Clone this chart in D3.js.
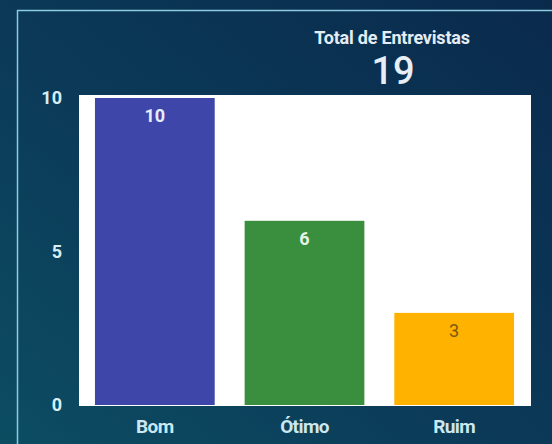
<!DOCTYPE html>
<html>
<head>
<meta charset="utf-8">
<script src="https://cdn.jsdelivr.net/npm/d3@7"></script>
<style>
  html, body { margin: 0; padding: 0; background: #0b2f4f; }
  svg { display: block; }
</style>
</head>
<body>
<svg id="chart" width="552" height="444"></svg>
<script>
const categories = ["Bom", "Ótimo", "Ruim"];
const values = [10, 6, 3];
const barColors = ["#3e47a9", "#3a8f3f", "#ffb200"];
const labelColors = ["#e8ecf8", "#e6f2e6", "#7a5a10"];
const labelWeights = ["bold", "bold", "normal"];
const yTicks = [0, 5, 10];
const totalTitle = "Total de Entrevistas";
const totalValue = 19;

const svg = d3.select("#chart");
const defs = svg.append("defs");
const grad = defs.append("linearGradient").attr("id", "bg")
  .attr("x1", "0%").attr("y1", "100%").attr("x2", "100%").attr("y2", "0%");
grad.append("stop").attr("offset", "0%").attr("stop-color", "#0c4d62");
grad.append("stop").attr("offset", "45%").attr("stop-color", "#0b3a58");
grad.append("stop").attr("offset", "100%").attr("stop-color", "#0a2a4c");

svg.append("rect").attr("width", 552).attr("height", 444).attr("fill", "url(#bg)");

// frame lines
svg.append("line").attr("x1", 17).attr("x2", 552).attr("y1", 10.5).attr("y2", 10.5)
  .attr("stroke", "#8ccbe0").attr("stroke-width", 1.5);
svg.append("line").attr("x1", 17.5).attr("x2", 17.5).attr("y1", 10).attr("y2", 444)
  .attr("stroke", "#8ccbe0").attr("stroke-width", 1.5);

// plot area
const plot = { left: 79, right: 531, top: 95, bottom: 406 };
svg.append("rect").attr("x", plot.left).attr("y", plot.top)
  .attr("width", plot.right - plot.left).attr("height", plot.bottom - plot.top)
  .attr("fill", "#ffffff");

const x = d3.scaleBand().domain(categories).range([80, 529]).paddingInner(0.2).paddingOuter(0.1);
const y = d3.scaleLinear().domain([0, 10]).range([405, 98]);

svg.selectAll("rect.bar").data(values).enter().append("rect")
  .attr("class", "bar")
  .attr("x", (d, i) => x(categories[i]))
  .attr("y", d => y(d))
  .attr("width", x.bandwidth())
  .attr("height", d => y(0) - y(d))
  .attr("fill", (d, i) => barColors[i]);

svg.selectAll("text.val").data(values).enter().append("text")
  .attr("class", "val")
  .attr("x", (d, i) => x(categories[i]) + x.bandwidth() / 2)
  .attr("y", d => y(d) + 24)
  .attr("text-anchor", "middle")
  .attr("font-family", "Roboto, sans-serif")
  .attr("font-size", 18)
  .attr("font-weight", (d, i) => labelWeights[i])
  .attr("fill", (d, i) => labelColors[i])
  .text(d => d);

// y axis
const yAxis = d3.axisLeft(y).tickValues(yTicks).tickSize(0).tickPadding(0);
const gy = svg.append("g").attr("transform", "translate(62,0)").call(yAxis);
gy.select(".domain").remove();
gy.selectAll("text")
  .attr("font-family", "Roboto, sans-serif")
  .attr("font-size", 18)
  .attr("font-weight", "bold")
  .attr("fill", "#d6eef5");

// x axis
const xAxis = d3.axisBottom(x).tickSize(0).tickPadding(0);
const gx = svg.append("g").attr("transform", "translate(0,0)").call(xAxis);
gx.select(".domain").remove();
gx.selectAll("text")
  .attr("y", 433).attr("dy", null)
  .attr("font-family", "Roboto, sans-serif")
  .attr("font-size", 19)
  .attr("font-weight", "bold")
  .attr("letter-spacing", "-0.6px")
  .attr("fill", "#cbe7f0");

// total header
svg.append("text").attr("x", 392).attr("y", 44).attr("text-anchor", "middle")
  .attr("font-family", "Roboto, sans-serif").attr("font-size", 18).attr("font-weight", "bold")
  .attr("letter-spacing", "-0.2px")
  .attr("fill", "#e4ecf4").text(totalTitle);
svg.append("text").attr("x", 393).attr("y", 84).attr("text-anchor", "middle")
  .attr("font-family", "Roboto, sans-serif").attr("font-size", 38).attr("font-weight", "500")
  .attr("fill", "#e8eef5").text(totalValue);
</script>
</body>
</html>
